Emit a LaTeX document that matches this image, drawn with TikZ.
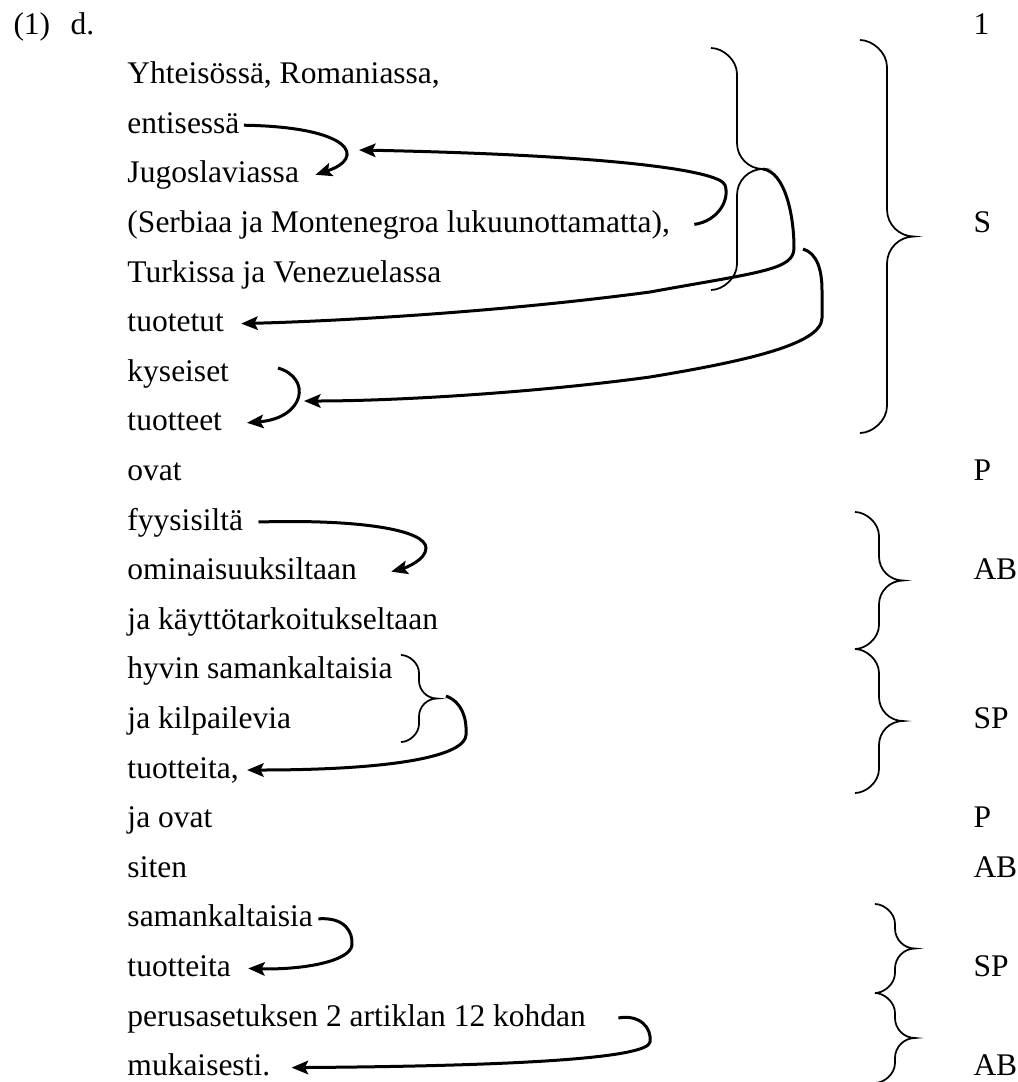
\documentclass[tikz,border=0pt]{standalone}
\usepackage{fontspec}
\setmainfont{Liberation Serif}
\usetikzlibrary{arrows.meta}

\tikzset{
  word/.style={anchor=base west, inner sep=0pt, text height=6.4pt, text depth=0pt,
    font=\fontsize{12.6pt}{15pt}\selectfont},
  link/.style={-{Stealth[length=6.6pt,width=5.4pt,inset=1.3pt]}, line width=1.2pt},
  brace/.style={line width=0.7pt},
}

% right curly brace: stem x, top y, bottom y, size, name of the tip
\newcommand\drawbrace[5]{%
  \draw[brace] ({#1-#4},#2) .. controls ({#1-0.55*#4},#2) and (#1,{#2+0.45*#4}) .. (#1,{#2+#4})
    -- (#1,{(#2+#3)/2-#4}) .. controls (#1,{(#2+#3)/2-0.45*#4}) and ({#1+0.45*#4},{(#2+#3)/2}) .. ({#1+#4},{(#2+#3)/2}) coordinate (#5)
    .. controls ({#1+0.45*#4},{(#2+#3)/2}) and (#1,{(#2+#3)/2+0.45*#4}) .. (#1,{(#2+#3)/2+#4})
    -- (#1,{#3-#4}) .. controls (#1,{#3-0.45*#4}) and ({#1-0.55*#4},#3) .. ({#1-#4},#3);}

\begin{document}
\begin{tikzpicture}[x=0.4pt, y=-0.4pt]

  \newcommand\Xtxt{127}
  \newcommand\Xlab{973}
  \newcommand\Ytop{34}
  \newcommand\Ystep{49.6}

  \useasboundingbox (0,0) rectangle (1018,1082);
  \clip (0,0) rectangle (1018,1082);

  \node[word] (num) at (13,\Ytop) {(1)};
  \node[word] (sub) at (70,\Ytop) {d.};

  \node[word] (yht) at (\Xtxt,\Ytop+1*\Ystep) {Yhteisössä, Romaniassa,};
  \node[word] (ent) at (\Xtxt,\Ytop+2*\Ystep) {entisessä};
  \node[word] (jug) at (\Xtxt,\Ytop+3*\Ystep) {Jugoslaviassa};
  \node[word] (ser) at (\Xtxt,\Ytop+4*\Ystep) {(Serbiaa ja Montenegroa lukuunottamatta),};
  \node[word] (tur) at (\Xtxt,\Ytop+5*\Ystep) {Turkissa ja Venezuelassa};
  \node[word] (tuo) at (\Xtxt,\Ytop+6*\Ystep) {tuotetut};
  \node[word] (kys) at (\Xtxt,\Ytop+7*\Ystep) {kyseiset};
  \node[word] (tte) at (\Xtxt,\Ytop+8*\Ystep) {tuotteet};
  \node[word] (ova) at (\Xtxt,\Ytop+9*\Ystep) {ovat};
  \node[word] (fyy) at (\Xtxt,\Ytop+10*\Ystep) {fyysisiltä};
  \node[word] (omi) at (\Xtxt,\Ytop+11*\Ystep) {ominaisuuksiltaan};
  \node[word] (kay) at (\Xtxt,\Ytop+12*\Ystep) {ja käyttötarkoitukseltaan};
  \node[word] (hyv) at (\Xtxt,\Ytop+13*\Ystep) {hyvin samankaltaisia};
  \node[word] (kil) at (\Xtxt,\Ytop+14*\Ystep) {ja kilpailevia};
  \node[word] (tta) at (\Xtxt,\Ytop+15*\Ystep) {tuotteita,};
  \node[word] (jao) at (\Xtxt,\Ytop+16*\Ystep) {ja ovat};
  \node[word] (sit) at (\Xtxt,\Ytop+17*\Ystep) {siten};
  \node[word] (sam) at (\Xtxt,\Ytop+18*\Ystep) {samankaltaisia};
  \node[word] (ttb) at (\Xtxt,\Ytop+19*\Ystep) {tuotteita};
  \node[word] (per) at (\Xtxt,\Ytop+20*\Ystep) {perusasetuksen 2 artiklan 12 kohdan};
  \node[word] (muk) at (\Xtxt,\Ytop+21*\Ystep) {mukaisesti.};

  \node[word] (l1)   at (\Xlab,\Ytop) {1};
  \node[word] (lS)   at (\Xlab,\Ytop+4*\Ystep) {S};
  \node[word] (lP)   at (\Xlab,\Ytop+9*\Ystep) {P};
  \node[word] (lAB)  at (\Xlab,\Ytop+11*\Ystep) {AB};
  \node[word] (lSP)  at (\Xlab,\Ytop+14*\Ystep) {SP};
  \node[word] (lP2)  at (\Xlab,\Ytop+16*\Ystep) {P};
  \node[word] (lAB2) at (\Xlab,\Ytop+17*\Ystep) {AB};
  \node[word] (lSP2) at (\Xlab,\Ytop+19*\Ystep) {SP};
  \node[word] (lAB3) at (\Xlab,\Ytop+21*\Ystep) {AB};

  % braces
  \drawbrace{737}{48}{290}{26}{b1tip}
  \drawbrace{887}{40}{433}{27}{stip}
  \drawbrace{419}{655}{742}{18}{hyvtip}
  \drawbrace{879}{512}{649}{24}{abtip}
  \drawbrace{879}{649}{793}{24}{sptip}
  \drawbrace{895}{904}{993}{20}{sp2tip}
  \drawbrace{895}{993}{1083}{20}{ab3tip}

  \coordinate (jugpt) at (359,150);
  \coordinate (b3top) at (803,249);
  \coordinate (kysr)  at (278,368);
  \coordinate (ttept) at (304,401);
  \coordinate (hyvr)  at (446,696);

  % 2 -> 3
  \draw[link] ([xshift=1.6pt]ent.east) .. controls (353,127) and (366,158) .. ([xshift=6.4pt]jug.east);
  % 4 -> 2/3
  \draw[link] ([xshift=9.6pt]ser.east) .. controls (718,221) and (730,200) .. (725,185)
    .. controls (719,170) and (607,155) .. (jugpt);
  % 1-5 -> 6
  \draw[link] (b1tip) .. controls (785,172) and (794,215) .. (794,248)
    .. controls (794,270) and (760,272) .. (650,292)
    .. controls (500,312) and (340,321) .. ([xshift=6.8pt]tuo.east);
  % 1-6 -> 7/8
  \draw[link] (b3top) .. controls (817,253) and (822,270) .. (822,290) -- (822,318)
    .. controls (822,345) and (740,362) .. (650,377)
    .. controls (540,392) and (400,401) .. (ttept);
  % 7 -> 8
  \draw[link] (kysr) .. controls (312,378) and (305,418) .. ([xshift=9.8pt]tte.east);
  % 10 -> 11
  \draw[link] ([xshift=6pt]fyy.east) .. controls (360,519) and (426,530) .. (426,548)
    .. controls (426,560) and (405,568) .. ([xshift=13.6pt]omi.east);
  % 13/14 -> 15
  \draw[link] (hyvr) .. controls (462,702) and (467,718) .. (466,735)
    .. controls (465,755) and (400,770) .. ([xshift=3.2pt]tta.east);
  % 18 -> 19
  \draw[link] ([xshift=2pt]sam.east) .. controls (345,917) and (353,932) .. (352,945)
    .. controls (350,962) and (300,970) .. ([xshift=6.8pt]ttb.east);
  % 20 -> 21
  \draw[link] ([xshift=12.8pt]per.east) .. controls (640,1014) and (652,1028) .. (650,1042)
    .. controls (648,1058) and (520,1066) .. ([xshift=8.4pt]muk.east);

\end{tikzpicture}
\end{document}
